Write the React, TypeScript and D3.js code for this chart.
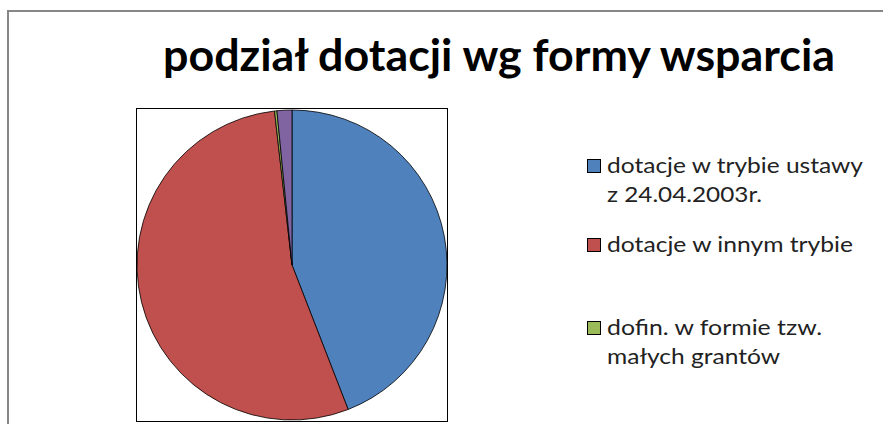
import React, { useEffect, useRef } from "react";
import * as d3 from "d3";

// udziały w %
const categories = [
  "dotacje w trybie ustawy z 24.04.2003r.",
  "dotacje w innym trybie",
  "dofin. w formie tzw. małych grantów",
  "inne",
];
const values = [44.1, 54.1, 0.25, 1.55];
const colors = ["#4F81BD", "#C0504D", "#9BBB59", "#8064A2"];
// legend rows (the 4th entry is cut off in the original)
const legendLines = [
  ["dotacje w trybie ustawy", "z 24.04.2003r."],
  ["dotacje w innym trybie"],
  ["dofin. w formie tzw.", "małych grantów"],
];
const legendLen = [[256, 155], [246], [215, 173]];
const legendY = [173, 252, 335];

const W = 883;
const H = 424;

const App = () => {
  const ref = useRef<SVGSVGElement>(null);

  useEffect(() => {
    document.body.style.margin = "0";
    const svg = d3.select(ref.current);
    svg.selectAll("*").remove();

    // chart area frame
    svg.append("rect")
      .attr("x", 8).attr("y", 11)
      .attr("width", W + 20).attr("height", H + 20)
      .attr("fill", "#fff").attr("stroke", "#878787").attr("stroke-width", 2);

    svg.append("text")
      .attr("x", 163).attr("y", 71)
      .attr("textLength", 672).attr("lengthAdjust", "spacingAndGlyphs")
      .style("font-family", "Lato, 'Open Sans', sans-serif")
      .style("font-weight", "bold")
      .style("font-size", "43px")
      .attr("fill", "#000")
      .text("podział dotacji wg formy wsparcia");

    // plot area box
    svg.append("rect")
      .attr("x", 136.5).attr("y", 108.5)
      .attr("width", 311).attr("height", 313)
      .attr("fill", "#fff").attr("stroke", "#000").attr("stroke-width", 1);

    const cx = 292, cy = 265, r = 155;
    const pie = d3.pie<number>().sort(null).value(d => d);
    const arc = d3.arc<d3.PieArcDatum<number>>().innerRadius(0).outerRadius(r);

    const g = svg.append("g").attr("transform", `translate(${cx},${cy})`);
    g.selectAll("path")
      .data(pie(values))
      .enter().append("path")
      .attr("d", arc)
      .attr("fill", (d, i) => colors[i])
      .attr("stroke", "#000")
      .attr("stroke-width", 0.8)
      .append("title")
      .text((d, i) => categories[i]);

    const lg = svg.append("g");
    legendLines.forEach((lines, i) => {
      const y = legendY[i];
      lg.append("rect")
        .attr("x", 587.5).attr("y", y - 13.5)
        .attr("width", 13).attr("height", 13)
        .attr("fill", colors[i]).attr("stroke", "#000").attr("stroke-width", 1);
      lines.forEach((t, j) => {
        lg.append("text")
          .attr("x", 607).attr("y", y + j * 29)
          .attr("textLength", legendLen[i][j]).attr("lengthAdjust", "spacingAndGlyphs")
          .style("font-family", "Lato, 'Open Sans', sans-serif")
          .style("font-size", "22px")
          .attr("fill", "#222")
          .text(t);
      });
    });
  }, []);

  return <svg ref={ref} width={W} height={H} style={{ display: "block" }} />;
};

export default App;
